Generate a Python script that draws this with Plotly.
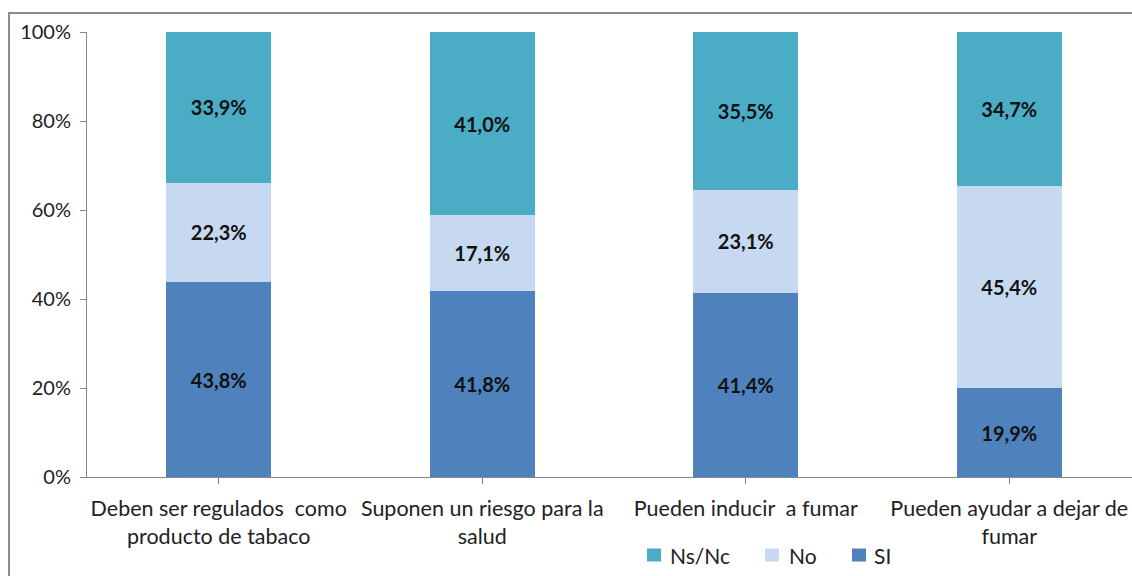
import plotly.graph_objects as go

categories = [
    "Deben ser regulados  como<br>producto de tabaco",
    "Suponen un riesgo para la<br>salud",
    "Pueden inducir  a fumar",
    "Pueden ayudar a dejar de<br>fumar",
]
si_vals = [43.8, 41.8, 41.4, 19.9]
no_vals = [22.3, 17.1, 23.1, 45.4]
nsnc_vals = [33.9, 41.0, 35.5, 34.7]
y_ticks = [0, 20, 40, 60, 80, 100]
y_tick_labels = ["0%", "20%", "40%", "60%", "80%", "100%"]

FONT = "Lato, 'Open Sans', sans-serif"
W, H = 1132, 576
L, R, T, B = 87, 0, 32, 99
CAT_PX = 263.5  # pixel width of one category slot

series = [
    ("SI", si_vals, "#4F81BD"),
    ("No", no_vals, "#C6D9F1"),
    ("Ns/Nc", nsnc_vals, "#4BACC6"),
]

plot_w = W - L - R
plot_h = H - T - B


def px_x(px):
    return (px - L) / plot_w


def px_y(py):
    return (H - B - py) / plot_h


fig = go.Figure()
for name, vals, color in series:
    fig.add_trace(go.Bar(
        name=name,
        x=list(range(len(categories))),
        y=vals,
        marker=dict(color=color, line=dict(width=0)),
        width=0.40,
        text=[f"{v:.1f}%".replace(".", ",") for v in vals],
        textposition="inside",
        insidetextanchor="middle",
        textangle=0,
        textfont=dict(family=FONT, size=20, color="#111111", weight="bold"),
        showlegend=False,
    ))

# legend drawn as swatches + labels (Ns/Nc, No, SI from left to right)
shapes = [
    # outer chart frame
    dict(
        type="rect", xref="paper", yref="paper",
        x0=px_x(9), x1=1.2,
        y0=-0.5, y1=px_y(13),
        line=dict(color="#8C8C8C", width=2),
        fillcolor="rgba(0,0,0,0)",
        layer="below",
    ),
]
annotations = []
legend_sq_x = [647, 765, 852]
legend_txt_x = [668, 787, 872]
legend_cy = 555.5
for (name, _, color), sx, tx in zip(series[::-1], legend_sq_x, legend_txt_x):
    shapes.append(dict(
        type="rect", xref="paper", yref="paper",
        x0=px_x(sx), x1=px_x(sx + 14),
        y0=px_y(legend_cy + 6), y1=px_y(legend_cy - 7),
        line=dict(width=0), fillcolor=color,
    ))
    annotations.append(dict(
        xref="paper", yref="paper",
        x=px_x(tx), y=px_y(legend_cy),
        xanchor="left", yanchor="middle",
        text=name, showarrow=False,
        font=dict(family=FONT, size=21, color="#222222"),
    ))

fig.update_layout(
    width=W, height=H,
    margin=dict(l=L, r=R, t=T, b=B, pad=0),
    barmode="stack",
    paper_bgcolor="white",
    plot_bgcolor="white",
    font=dict(family=FONT, size=18, color="#222222"),
    uniformtext=dict(mode=False),
    showlegend=False,
    xaxis=dict(
        tickmode="array",
        tickvals=list(range(len(categories))),
        ticktext=categories,
        range=[-0.5, -0.5 + plot_w / CAT_PX],
        tickson="boundaries",
        ticks="outside",
        ticklen=6,
        tickcolor="#868686",
        showline=True,
        linecolor="#868686",
        linewidth=1,
        showgrid=False,
        zeroline=False,
        tickfont=dict(family=FONT, size=21.5, color="#222222"),
        ticklabelstandoff=6,
    ),
    yaxis=dict(
        range=[0, 100],
        tickmode="array",
        tickvals=y_ticks,
        ticktext=y_tick_labels,
        ticks="outside",
        ticklen=6,
        tickcolor="#868686",
        showline=True,
        linecolor="#868686",
        linewidth=1,
        showgrid=False,
        zeroline=False,
        tickfont=dict(family=FONT, size=20, color="#222222"),
        ticklabelstandoff=5,
    ),
    shapes=shapes,
    annotations=annotations,
)

fig.write_html("out.html")
